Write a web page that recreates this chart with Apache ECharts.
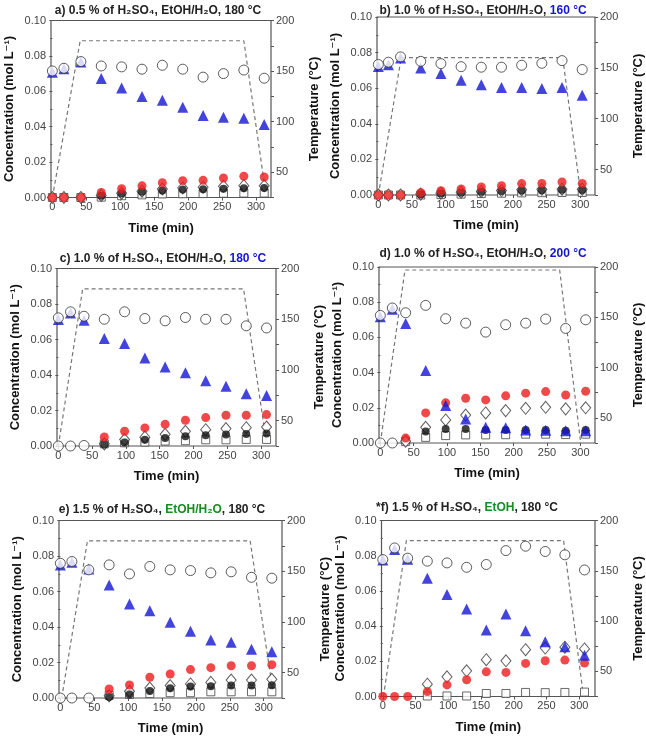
<!DOCTYPE html>
<html lang="en">
<head>
<meta charset="UTF-8">
<title>Concentration and temperature vs time</title>
<script src="https://cdn.jsdelivr.net/npm/echarts@6/dist/echarts.min.js"></script>
<style>html,body{margin:0;padding:0;background:#fff;}</style>
</head>
<body>
<div id="main" style="width:646px;height:742px;"></div>
<script>
// ---- data (concentration in mol/L, time in min) ----
// a) 0.5 % H2SO4, EtOH/H2O, 180 C
var timeA = [0, 17, 42, 72, 102, 132, 162, 192, 222, 252, 282, 312];
var circA = [0.0715, 0.0730, 0.0768, 0.0743, 0.0738, 0.0725, 0.0747, 0.0725, 0.0680, 0.0700, 0.0720, 0.0674];
var triA  = [0.0708, 0.0728, 0.0765, 0.0672, 0.0618, 0.0571, 0.0550, 0.0510, 0.0463, 0.0453, 0.0448, 0.0412];
var redA  = [0, 0, 0, 0.0028, 0.0050, 0.0066, 0.0084, 0.0095, 0.0097, 0.0110, 0.0120, 0.0116];
var diaA  = [0, 0, 0, 0.0012, 0.0024, 0.0036, 0.0048, 0.0054, 0.0058, 0.0063, 0.0067, 0.0066];
var blkA  = [null, null, null, 0.0010, 0.0022, 0.0033, 0.0040, 0.0045, 0.0046, 0.0050, 0.0052, 0.0053];
var sqA   = [0, 0, 0, 0.0002, 0.0010, 0.0015, 0.0020, 0.0021, 0.0022, 0.0024, 0.0025, 0.0025];
var zeroA = [];
var tempTimeA = [0, 41, 282, 314];
var tempA     = [25, 180, 180, 30];

// b) 1.0 % H2SO4, EtOH/H2O, 160 C
var timeB = [0, 15, 33, 63, 93, 123, 153, 183, 213, 243, 273, 303];
var circB = [0.0733, 0.0746, 0.0776, 0.0751, 0.0738, 0.0721, 0.0718, 0.0718, 0.0729, 0.0740, 0.0755, 0.0705];
var triB  = [0.0722, 0.0732, 0.0770, 0.0714, 0.0682, 0.0645, 0.0620, 0.0604, 0.0604, 0.0598, 0.0604, 0.0560];
var redB  = [0, 0, 0, 0.0013, 0.0024, 0.0034, 0.0045, 0.0052, 0.0064, 0.0065, 0.0073, 0.0065];
var diaB  = [0, 0, 0, 0.0005, 0.0010, 0.0015, 0.0020, 0.0025, 0.0030, 0.0032, 0.0033, 0.0033];
var blkB  = [null, null, null, 0.0003, 0.0008, 0.0012, 0.0018, 0.0022, 0.0025, 0.0027, 0.0030, 0.0028];
var sqB   = [0, 0, 0, 0, 0.0002, 0.0005, 0.0008, 0.0010, 0.0012, 0.0013, 0.0014, 0.0014];
var zeroB = [];
var tempTimeB = [0, 34, 274, 301];
var tempB     = [25, 160, 160, 25];

// c) 1.0 % H2SO4, EtOH/H2O, 180 C
var timeC = [0, 18, 38, 68, 98, 128, 158, 188, 218, 248, 278, 308];
var circC = [0.0722, 0.0756, 0.0731, 0.0714, 0.0756, 0.0718, 0.0705, 0.0724, 0.0714, 0.0714, 0.0677, 0.0665];
var triC  = [0.0712, 0.0750, 0.0709, 0.0605, 0.0577, 0.0496, 0.0445, 0.0412, 0.0367, 0.0336, 0.0295, 0.0284];
var redC  = [null, null, null, 0.0051, 0.0083, 0.0102, 0.0122, 0.0145, 0.0160, 0.0173, 0.0173, 0.0177];
var diaC  = [null, null, null, 0.0012, 0.0036, 0.0050, 0.0066, 0.0083, 0.0092, 0.0098, 0.0103, 0.0107];
var blkC  = [null, null, null, 0.0008, 0.0020, 0.0035, 0.0045, 0.0055, 0.0060, 0.0065, 0.0068, 0.0070];
var sqC   = [null, null, null, 0.0012, 0.0018, 0.0022, 0.0028, 0.0030, 0.0035, 0.0035, 0.0037, 0.0037];
var zeroC = [0, 0, 0.0003];
var tempTimeC = [0, 36, 274, 308];
var tempC     = [25, 180, 180, 28];

// d) 1.0 % H2SO4, EtOH/H2O, 200 C
var timeD = [0, 18, 38, 68, 98, 128, 158, 188, 218, 248, 278, 308];
var circD = [0.0725, 0.0767, 0.0740, 0.0782, 0.0706, 0.0681, 0.0630, 0.0672, 0.0681, 0.0704, 0.0651, 0.0700];
var triD  = [0.0718, 0.0760, 0.0679, 0.0412, 0.0213, 0.0137, 0.0089, 0.0087, 0.0074, 0.0072, 0.0070, 0.0070];
var redD  = [null, null, 0.0028, 0.0171, 0.0228, 0.0254, 0.0245, 0.0268, 0.0283, 0.0292, 0.0273, 0.0294];
var diaD  = [null, null, 0.0010, 0.0089, 0.0131, 0.0159, 0.0171, 0.0184, 0.0197, 0.0203, 0.0194, 0.0200];
var blkD  = [null, null, null, 0.0065, 0.0080, 0.0080, 0.0074, 0.0074, 0.0074, 0.0074, 0.0070, 0.0074];
var sqD   = [null, null, 0.0008, 0.0032, 0.0042, 0.0046, 0.0046, 0.0047, 0.0050, 0.0050, 0.0048, 0.0050];
var zeroD = [0, 0];
var tempTimeD = [0, 37, 269, 300];
var tempD     = [25, 197, 197, 28];

// e) 1.5 % H2SO4, EtOH/H2O, 180 C
var timeE = [0, 17, 42, 72, 102, 132, 162, 192, 222, 252, 282, 312];
var circE = [0.0759, 0.0769, 0.0722, 0.0750, 0.0699, 0.0741, 0.0722, 0.0718, 0.0705, 0.0711, 0.0680, 0.0675];
var triE  = [0.0750, 0.0765, 0.0727, 0.0637, 0.0530, 0.0492, 0.0427, 0.0376, 0.0327, 0.0314, 0.0274, 0.0261];
var redE  = [null, null, null, 0.0051, 0.0073, 0.0117, 0.0135, 0.0160, 0.0171, 0.0182, 0.0182, 0.0188];
var diaE  = [null, null, null, 0.0012, 0.0038, 0.0056, 0.0070, 0.0079, 0.0088, 0.0101, 0.0101, 0.0105];
var blkE  = [null, null, null, 0.0005, 0.0020, 0.0040, 0.0055, 0.0065, 0.0066, 0.0070, 0.0070, 0.0072];
var sqE   = [null, null, null, 0.0015, 0.0020, 0.0025, 0.0030, 0.0030, 0.0035, 0.0035, 0.0035, 0.0035];
var zeroE = [0, 0, 0];
var tempTimeE = [2, 40, 280, 314];
var tempE     = [25, 180, 180, 30];

// f) 1.5 % H2SO4, EtOH, 180 C
var timeF = [0, 18, 38, 68, 98, 128, 158, 188, 218, 248, 278, 308];
var circF = [0.0778, 0.0844, 0.0786, 0.0769, 0.0759, 0.0734, 0.0750, 0.0829, 0.0854, 0.0824, 0.0805, 0.0719];
var triF  = [0.0775, 0.0835, 0.0780, 0.0672, 0.0579, 0.0497, 0.0378, 0.0469, 0.0374, 0.0311, 0.0283, 0.0235];
var redF  = [0, 0, 0, 0.0028, 0.0066, 0.0095, 0.0140, 0.0137, 0.0188, 0.0203, 0.0207, 0.0190];
var diaF  = [null, null, null, 0.0070, 0.0112, 0.0146, 0.0209, 0.0203, 0.0266, 0.0275, 0.0280, 0.0270];
var blkF  = [];
var sqF   = [null, null, null, 0.0003, 0.0003, 0.0003, 0.0017, 0.0017, 0.0023, 0.0022, 0.0023, 0.0025];
var zeroF = [];
var tempTimeF = [1, 36, 276, 306];
var tempF     = [25, 180, 180, 27];

// ticks
var xTicks = [0, 50, 100, 150, 200, 250, 300];
var concTicks = [0, 0.02, 0.04, 0.06, 0.08, 0.10];
var tempLabels = [50, 100, 150, 200];

// ---- layout ----
var FONT = '"Liberation Sans", Arial, "DejaVu Sans", sans-serif';
var BLUE = '#1414d6';
var GREEN = '#1a8c22';

var panels = [
  {title: 'a) 0.5 % of H₂SO₄, EtOH/H₂O, 180 °C', tx: 158, ty: 5, box: [51, 20.5, 220, 177], xMax: 322,
   time: timeA, circ: circA, tri: triA, red: redA, dia: diaA, blk: blkA, sq: sqA, zero: zeroA, tt: tempTimeA, tv: tempA},
  {title: 'b) 1.0 % of H₂SO₄, EtOH/H₂O, {b|160 °C}', tx: 483, ty: 5, box: [377, 17, 220, 178], xMax: 322,
   time: timeB, circ: circB, tri: triB, red: redB, dia: diaB, blk: blkB, sq: sqB, zero: zeroB, tt: tempTimeB, tv: tempB},
  {title: 'c) 1.0 % of H₂SO₄, EtOH/H₂O, {b|180 °C}', tx: 163, ty: 253, box: [57, 268.5, 219, 177.5], xMax: 322,
   time: timeC, circ: circC, tri: triC, red: redC, dia: diaC, blk: blkC, sq: sqC, zero: zeroC, tt: tempTimeC, tv: tempC},
  {title: 'd) 1.0 % of H₂SO₄, EtOH/H₂O, {b|200 °C}', tx: 483, ty: 248, box: [379, 267, 219, 176], xMax: 322,
   time: timeD, circ: circD, tri: triD, red: redD, dia: diaD, blk: blkD, sq: sqD, zero: zeroD, tt: tempTimeD, tv: tempD},
  {title: 'e) 1.5 % of H₂SO₄, {g|EtOH/H₂O}, 180 °C', tx: 162, ty: 504, box: [59, 520.5, 223, 177.5], xMax: 327,
   time: timeE, circ: circE, tri: triE, red: redE, dia: diaE, blk: blkE, sq: sqE, zero: zeroE, tt: tempTimeE, tv: tempE},
  {title: '*f) 1.5 % of H₂SO₄, {g|EtOH}, 180 °C', tx: 467, ty: 502, box: [381.5, 520.5, 221, 176], xMax: 324,
   time: timeF, circ: circF, tri: triF, red: redF, dia: diaF, blk: blkF, sq: sqF, zero: zeroF, tt: tempTimeF, tv: tempF}
];

function pts(time, vals) {
  var out = [];
  for (var i = 0; i < vals.length; i++) {
    if (vals[i] !== null && vals[i] !== undefined) out.push([time[i], vals[i]]);
  }
  return out;
}

var titleRich = {
  b: {color: BLUE, fontFamily: FONT, fontSize: 12, fontWeight: 'bold'},
  g: {color: GREEN, fontFamily: FONT, fontSize: 12, fontWeight: 'bold'}
};
var tickLabel = {fontFamily: FONT, fontSize: 11, color: '#444'};
var axisName = {fontFamily: FONT, fontSize: 13, fontWeight: 'bold', color: '#111'};
var tickStyle = {color: '#555', width: 1};

var option = {
  backgroundColor: '#fff',
  animation: false,
  title: [], grid: [], xAxis: [], yAxis: [], series: []
};

panels.forEach(function (p, i) {
  option.title.push({
    text: p.title, left: p.tx, top: p.ty, textAlign: 'center', padding: 0,
    textStyle: {fontFamily: FONT, fontSize: 12, fontWeight: 'bold', color: '#222', rich: titleRich}
  });
  option.grid.push({
    left: p.box[0], top: p.box[1], width: p.box[2], height: p.box[3],
    show: true, borderColor: '#555', borderWidth: 1.2, backgroundColor: 'transparent'
  });
  option.xAxis.push({
    gridIndex: i, type: 'value', min: -2, max: p.xMax,
    name: 'Time (min)', nameLocation: 'middle', nameGap: 24, nameTextStyle: axisName,
    axisLine: {show: false}, splitLine: {show: false},
    axisTick: {show: true, customValues: xTicks, length: 3, lineStyle: tickStyle},
    axisLabel: Object.assign({customValues: xTicks, margin: 4}, tickLabel)
  });
  option.yAxis.push({
    gridIndex: i, type: 'value', min: 0, max: 0.1, interval: 0.02, position: 'left',
    name: 'Concentration (mol L⁻¹)', nameLocation: 'middle', nameGap: 35, nameTextStyle: axisName,
    axisLine: {show: false}, splitLine: {show: false},
    axisTick: {show: true, length: 3, lineStyle: tickStyle},
    minorTick: {show: true, splitNumber: 2, length: 2, lineStyle: tickStyle},
    axisLabel: Object.assign({margin: 5, formatter: function (v) { return v.toFixed(2); }}, tickLabel)
  });
  option.yAxis.push({
    gridIndex: i, type: 'value', min: 25, max: 200, interval: 25, position: 'right',
    name: 'Temperature (°C)', nameLocation: 'middle', nameGap: 37, nameTextStyle: axisName,
    axisLine: {show: false}, splitLine: {show: false},
    axisTick: {show: true, length: 3, lineStyle: tickStyle},
    axisLabel: Object.assign({margin: 5, formatter: function (v) { return v % 50 === 0 ? String(v) : ''; }}, tickLabel)
  });

  var xi = i, yl = 2 * i, yr = 2 * i + 1;
  option.series.push({
    type: 'line', xAxisIndex: xi, yAxisIndex: yr, data: pts(p.tt, p.tv),
    symbol: 'none', silent: true, z: 1,
    lineStyle: {color: '#777', width: 1.2, type: [4, 3]}
  });
  var openStyle = {color: '#fff', borderColor: '#333', borderWidth: 1};
  var marks = [
    {data: p.sq,   symbol: 'rect',     size: 8,  style: {color: '#fff', borderColor: '#444', borderWidth: 1}},
    {data: p.dia,  symbol: 'diamond',  size: [10, 12], style: openStyle},
    {data: p.blk,  symbol: 'circle',   size: 8,  style: {color: '#111'}},
    {data: p.red,  symbol: 'circle',   size: 9,  style: {color: '#ee1c1c'}},
    {data: p.tri,  symbol: 'triangle', size: 11, style: {color: BLUE}},
    {data: p.circ, symbol: 'circle',   size: 10, style: openStyle},
    {data: p.zero, symbol: 'circle',   size: 10, style: openStyle}
  ];
  marks.forEach(function (m, k) {
    option.series.push({
      type: 'scatter', xAxisIndex: xi, yAxisIndex: yl, data: pts(p.time, m.data),
      symbol: m.symbol, symbolSize: m.size, itemStyle: m.style, z: 2 + k, clip: false
    });
  });
});

var chart = echarts.init(document.getElementById('main'));
chart.setOption(option);
</script>
</body>
</html>
